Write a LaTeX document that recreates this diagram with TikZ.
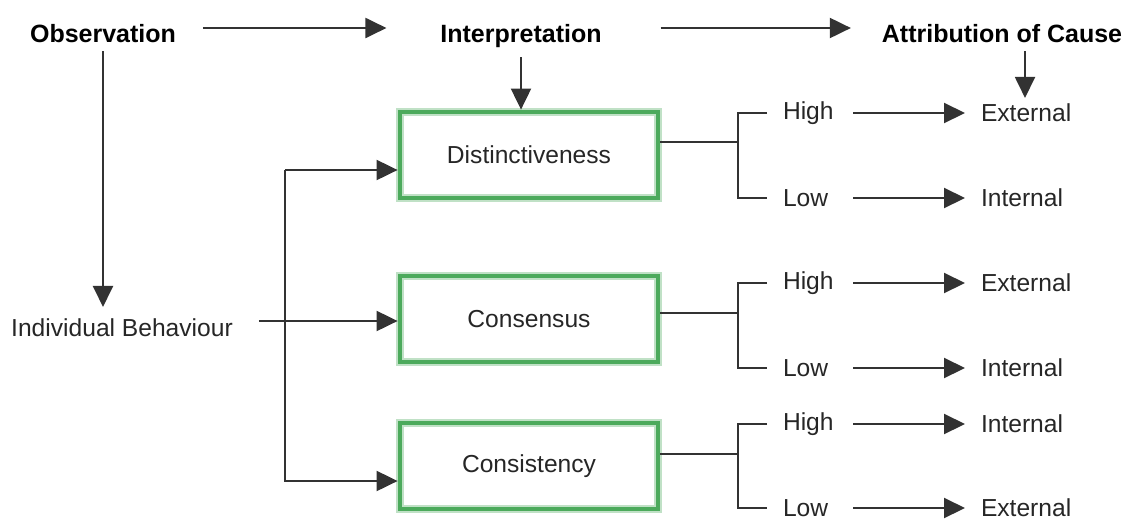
\documentclass[tikz,border=0pt]{standalone}
\usepackage{fontspec}
\setmainfont{Liberation Sans}
\usetikzlibrary{arrows.meta}
\definecolor{boxgreen}{RGB}{76,170,92}
\definecolor{linegray}{RGB}{50,50,50}

\begin{document}
\begin{tikzpicture}[x=0.5pt,y=-0.5pt,line width=1pt,
  arr/.style={draw=linegray,-{Triangle[length=10.5pt,width=10pt]}},
  conn/.style={draw=linegray},
  head/.style={font=\fontsize{12.5}{15}\selectfont\bfseries,inner sep=0pt,text height=9pt,text depth=0pt},
  plain/.style={font=\fontsize{12.3}{15}\selectfont,inner sep=0pt,text=black!85},
  factor/.style={plain,draw=boxgreen,line width=2.4pt,minimum width=129pt,minimum height=43pt,
    preaction={draw=boxgreen!35,line width=4.4pt}},
  level/.style={plain,anchor=west,text width=27pt,outer sep=8pt},
  cause/.style={plain,anchor=west,outer sep=8pt}]
  \useasboundingbox (0,0) rectangle (1127,525);

  % top row
  \node[head] (obs) at (103,33) {Observation};
  \node[head] (interp) at (521,33) {Interpretation};
  \node[head] (attr) at (1002,33) {Attribution of Cause};
  \draw[arr] ([xshift=13pt,yshift=2.5pt]obs.east) -- ([xshift=-26.5pt,yshift=2.5pt]interp.west);
  \draw[arr] ([xshift=29pt,yshift=2.5pt]interp.east) -- ([xshift=-15pt,yshift=2.5pt]attr.west);

  % behaviour
  \node[plain,outer sep=6pt] (indiv) at (122,328) {Individual Behaviour};
  \draw[arr] ([yshift=-4pt]obs.south) -- (obs.south |- indiv.north);

  % three factors
  \node[factor] (dist) at (529,155) {Distinctiveness};
  \node[factor] (cons) at (529,319) {Consensus};
  \node[factor] (cstc) at (529,466) {Consistency};
  \draw[arr] ([yshift=-7pt]interp.south) -- (interp.south |- dist.north);

  \coordinate (jtop) at (285,170);
  \coordinate (jbot) at (285,481);
  \coordinate (split) at (285,321);
  \draw[arr] (jtop) -- (jbot) -- (jbot -| cstc.west);
  \draw[arr] (jtop) -- (jtop -| dist.west);
  \draw[arr] ([xshift=7pt]indiv.east |- split) -- (split -| cons.west);

  % distinctiveness
  \node[level] (dh) at (767,113) {High};
  \node[level] (dl) at (767,198) {Low};
  \node[cause] (dhc) at (965,113) {External};
  \node[cause] (dlc) at (965,198) {Internal};
  \coordinate (dfork) at (738,142);
  \draw[conn] (dfork -| dist.east) -- (dfork);
  \draw[conn] (dh.west) -| (dfork) |- (dl.west);
  \draw[arr] (dh) -- (dhc);
  \draw[arr] (dl) -- (dlc);
  \draw[arr,shorten >=-5pt] ([xshift=11.5pt,yshift=-4pt]attr.south) -- ([xshift=11.5pt]attr.south |- dhc.north);

  % consensus
  \node[level] (ch) at (767,283) {High};
  \node[level] (cl) at (767,368) {Low};
  \node[cause] (chc) at (965,283) {External};
  \node[cause] (clc) at (965,368) {Internal};
  \coordinate (cfork) at (738,313);
  \draw[conn] (cfork -| cons.east) -- (cfork);
  \draw[conn] (ch.west) -| (cfork) |- (cl.west);
  \draw[arr] (ch) -- (chc);
  \draw[arr] (cl) -- (clc);

  % consistency
  \node[level] (kh) at (767,424) {High};
  \node[level] (kl) at (767,508) {Low};
  \node[cause] (khc) at (965,424) {Internal};
  \node[cause] (klc) at (965,508) {External};
  \coordinate (kfork) at (738,454);
  \draw[conn] (kfork -| cstc.east) -- (kfork);
  \draw[conn] (kh.west) -| (kfork) |- (kl.west);
  \draw[arr] (kh) -- (khc);
  \draw[arr] (kl) -- (klc);
\end{tikzpicture}
\end{document}
